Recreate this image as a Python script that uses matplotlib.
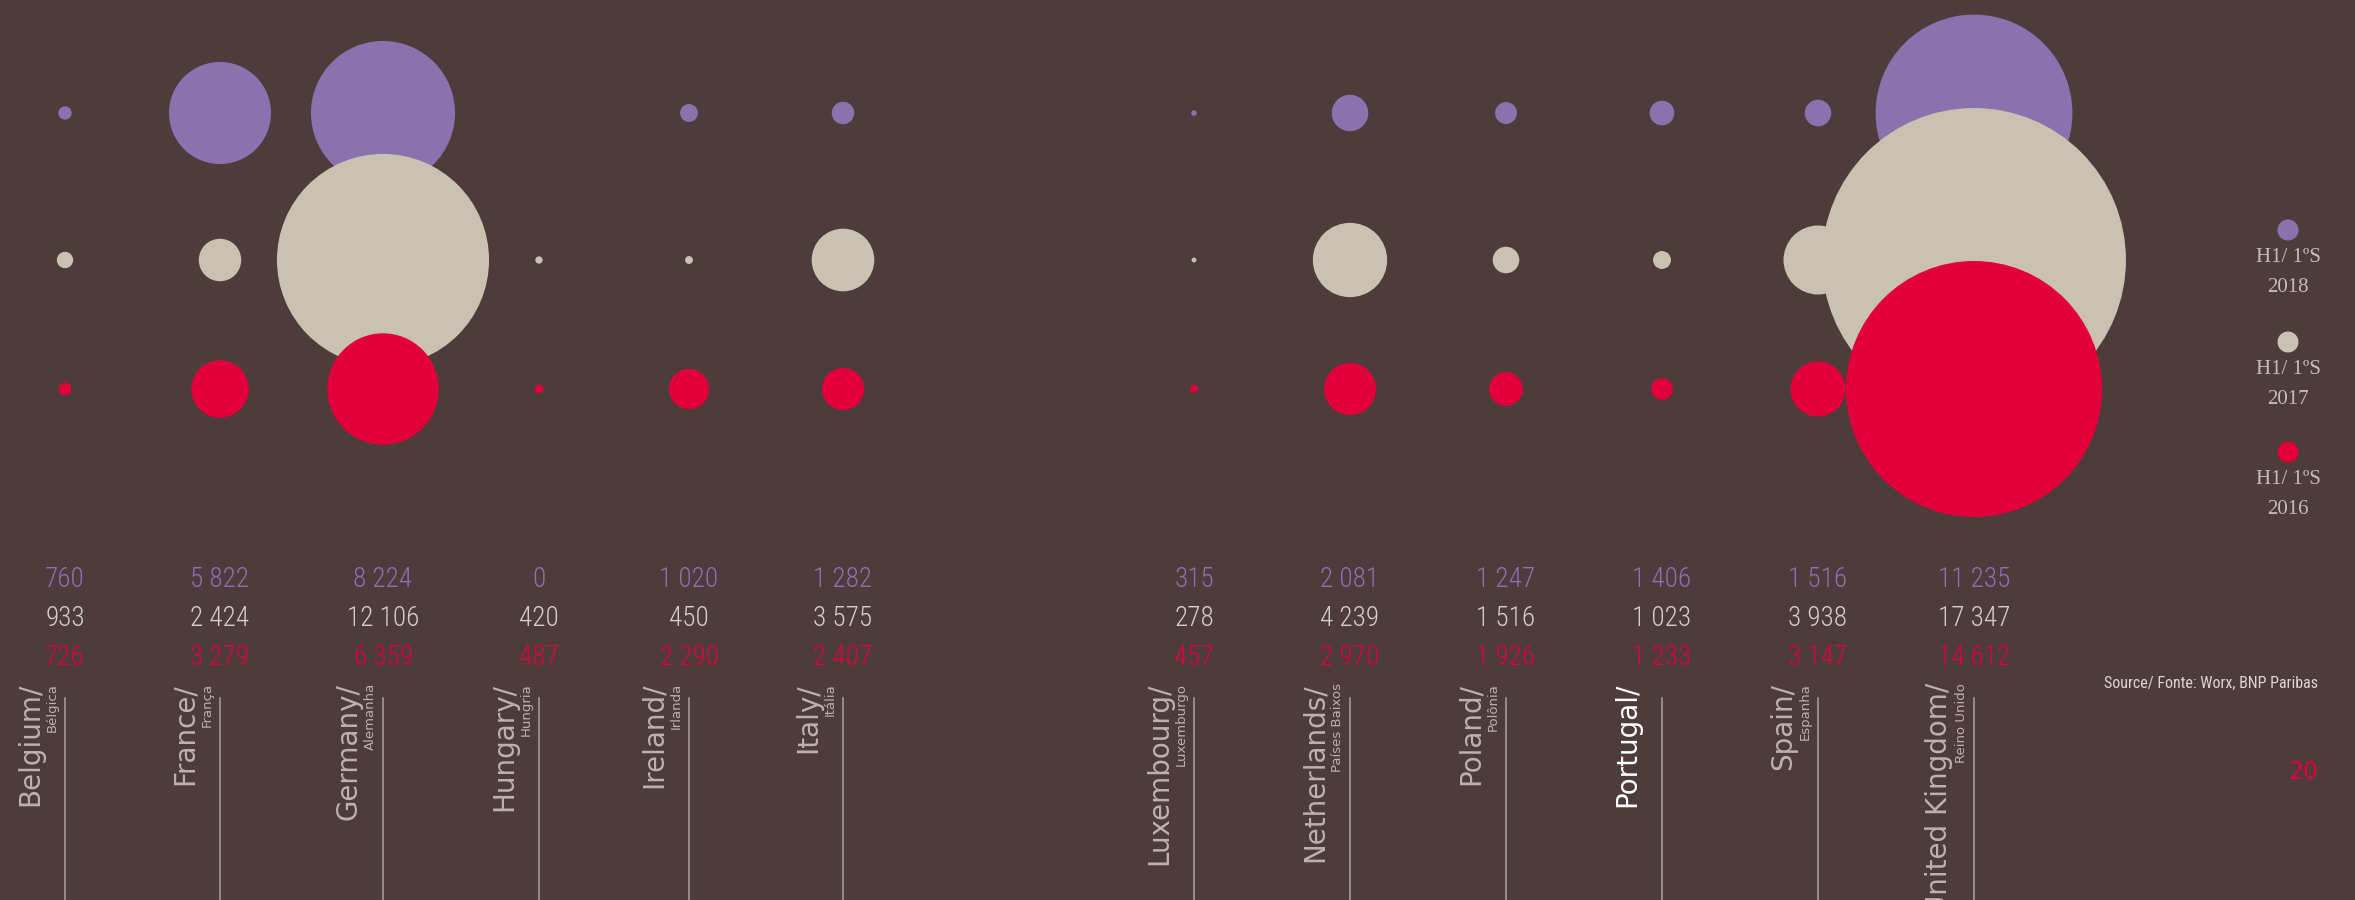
import matplotlib.pyplot as plt
from matplotlib import font_manager
from matplotlib.patches import Circle

# H1 / 1ºS office take-up by country
countries = ['Belgium/', 'France/', 'Germany/', 'Hungary/', 'Ireland/', 'Italy/',
             'Luxembourg/', 'Netherlands/', 'Poland/', 'Portugal/', 'Spain/', 'United Kingdom/']
countries_pt = ['Bélgica', 'França', 'Alemanha', 'Hungria', 'Irlanda', 'Itália',
                'Luxemburgo', 'Países Baixos', 'Polônia', '', 'Espanha', 'Reino Unido']
h1_2018 = [760, 5822, 8224, 0, 1020, 1282, 315, 2081, 1247, 1406, 1516, 11235]
h1_2017 = [933, 2424, 12106, 420, 450, 3575, 278, 4239, 1516, 1023, 3938, 17347]
h1_2016 = [726, 3279, 6359, 487, 2290, 2407, 457, 2970, 1926, 1233, 3147, 14612]
years = ['2018', '2017', '2016']

# layout (pixel units)
col_x = [65, 220, 383, 539, 689, 843, 1194, 1350, 1506, 1662, 1818, 1974]
row_y = [113, 260, 389]
num_base = [587, 626, 665]
r_per_unit = 0.00876

bg = '#4d3c3b'
colors = ['#8c71af', '#c9c2b0', '#e2003a']
num_colors = ['#8c71af', '#d6cfc4', '#e2003a']
label_col = '#bdb2ac'


def first_font(names):
    installed = {f.name for f in font_manager.fontManager.ttflist}
    for n in names:
        if n in installed:
            return n
    return 'DejaVu Sans'


# condensed face for the figures, sizes tuned per face
sizes = {'Roboto Condensed': (19.5, 11.5), 'Liberation Sans Narrow': (19, 11), 'Roboto': (17.5, 9.3)}
num_font = first_font(['Roboto Condensed', 'Liberation Sans Narrow', 'Roboto'])
num_size, src_size = sizes.get(num_font, (16, 8.5))

fig = plt.figure(figsize=(23.55, 9), dpi=100)
fig.set_facecolor(bg)
ax = fig.add_axes([0, 0, 1, 1])
ax.set_facecolor(bg)
ax.set_xlim(0, 2355)
ax.set_ylim(900, 0)
ax.axis('off')

series = [h1_2018, h1_2017, h1_2016]
for row, vals in enumerate(series):
    for x, v in zip(col_x, vals):
        if v > 0:
            ax.add_patch(Circle((x, row_y[row]), v * r_per_unit, color=colors[row], lw=0))


def fmt(v):
    return '{:,}'.format(v).replace(',', ' ')


for row, vals in enumerate(series):
    for x, v in zip(col_x, vals):
        ax.text(x, num_base[row], fmt(v), ha='center', va='baseline', fontsize=num_size,
                color=num_colors[row], family=num_font, weight='light')

# country names and separators
for i, x in enumerate(col_x):
    ax.plot([x, x], [698, 900], color='#a39893', lw=1.2)
    main_col = 'white' if countries[i] == 'Portugal/' else label_col
    ax.text(x - 27, 683, countries[i], rotation=90, rotation_mode='anchor',
            ha='right', va='baseline', fontsize=20, color=main_col)
    if countries_pt[i]:
        ax.text(x - 9, 683, countries_pt[i], rotation=90, rotation_mode='anchor',
                ha='right', va='baseline', fontsize=9.5, color=label_col)

# legend
leg_x = 2288
leg_y = [230, 342, 452]
for i in range(3):
    ax.add_patch(Circle((leg_x, leg_y[i]), 10.5, color=colors[i], lw=0))
    ax.text(leg_x, leg_y[i] + 28, 'H1/ 1ºS', ha='center', va='center', fontsize=15,
            color='#c8bcb6', family='Liberation Serif')
    ax.text(leg_x, leg_y[i] + 57, years[i], ha='center', va='center', fontsize=15,
            color='#c8bcb6', family='Liberation Serif')

ax.text(2318, 683, 'Source/ Fonte: Worx, BNP Paribas', ha='right', va='center',
        fontsize=src_size, color='#ddd5d0', family=num_font)
ax.text(2318, 772, '20', ha='right', va='center', fontsize=17, color='#e2003a')

plt.savefig('out.png', dpi=100, facecolor=bg)
